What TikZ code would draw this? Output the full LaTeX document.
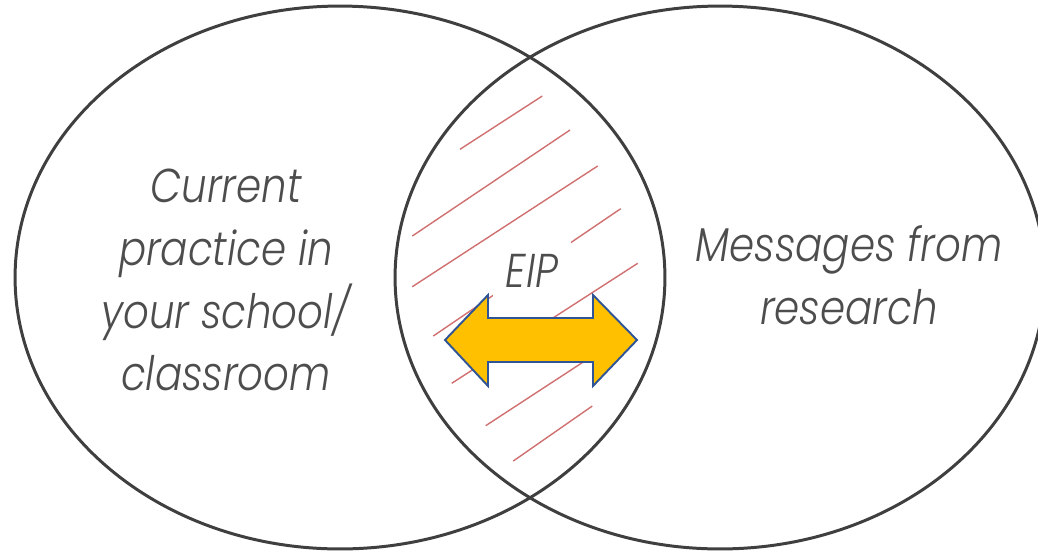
\documentclass[tikz,border=0pt]{standalone}
\usepackage{fontspec}
\usetikzlibrary{shapes.geometric}
\newfontfamily\vennfont{Poppins Light Italic}[FakeStretch=0.85]
\definecolor{ringgray}{HTML}{3F3F3F}
\definecolor{labelgray}{HTML}{4D4D4D}
\definecolor{hatchred}{RGB}{208,112,112}
\definecolor{arrowfill}{HTML}{FFC000}
\definecolor{arrowedge}{HTML}{2F5597}
\tikzset{
  ring/.style={draw=ringgray, line width=1.7pt, ellipse, inner sep=0pt,
    minimum width=13cm, minimum height=10.86cm},
  hatch/.style={draw=hatchred, line width=0.8pt},
  label/.style={font=\vennfont\fontsize{27}{35.8}\selectfont, text=labelgray, align=center, inner sep=0pt},
  arrowbody/.style={fill=arrowfill, draw=arrowedge, line width=1.1pt, line join=miter},
}
\begin{document}
\begin{tikzpicture}[x=0.02cm, y=-0.02cm]
  \useasboundingbox (0,0) rectangle (1038,552);
  \clip (0,0) rectangle (1038,552);

  % the two overlapping sets
  \node[ring] (practice) at (340,277.5) {};
  \node[ring] (research) at (720,277.5) {};

  % hatching across the overlap
  \draw[hatch] (460,149.3) -- (542.3,96);
  \draw[hatch] (412.3,236) -- (570,130);
  \draw[hatch] (412.3,286.7) -- (597.7,166);
  \draw[hatch] (433.3,336) -- (620.7,208.7);
  \draw[hatch] (451.7,383.3) -- (637.7,263.3);
  \draw[hatch] (485.7,425.7) -- (620,338);
  \draw[hatch] (513.3,461) -- (592.3,406);

  % set labels
  \node[label] (current) at (226,280) {Current\\practice in\\your school/\\classroom};
  \node[label] (messages) at (849,275) {Messages from\\research};
  \node[label, fill=white, inner sep=0.26cm] (eip) at (532,271) {EIP};

  % two-way arrow in the overlap
  \draw[arrowbody] (445,340) -- (488,295) -- (488,318) -- (593,318) -- (593,295)
    -- (637,340) -- (593,386) -- (593,362) -- (488,362) -- (488,386) -- cycle;
\end{tikzpicture}
\end{document}
